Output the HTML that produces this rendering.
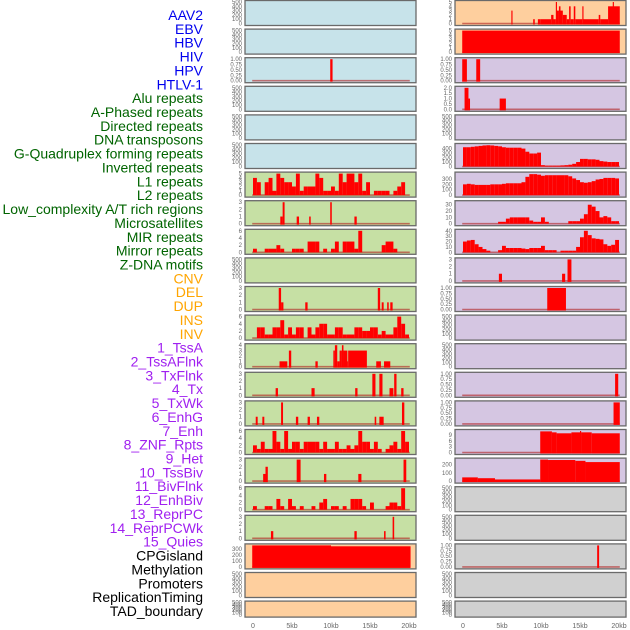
<!DOCTYPE html>
<html><head><meta charset="utf-8"><style>
html,body{margin:0;padding:0;background:#fff;}
svg{display:block;font-family:"Liberation Sans",sans-serif;}
</style></head><body>
<svg id="chart" width="630" height="630" viewBox="0 0 630 630" xmlns="http://www.w3.org/2000/svg">
<g id="labels"></g>
<g id="panels"></g>
<g id="xaxis"></g>
</svg>
<script>
// ---- labels ----
const labelNames = ["AAV2","EBV","HBV","HIV","HPV","HTLV-1","Alu repeats","A-Phased repeats","Directed repeats","DNA transposons","G-Quadruplex forming repeats","Inverted repeats","L1 repeats","L2 repeats","Low_complexity A/T rich regions","Microsatellites","MIR repeats","Mirror repeats","Z-DNA motifs","CNV","DEL","DUP","INS","INV","1_TssA","2_TssAFlnk","3_TxFlnk","4_Tx","5_TxWk","6_EnhG","7_Enh","8_ZNF_Rpts","9_Het","10_TssBiv","11_BivFlnk","12_EnhBiv","13_ReprPC","14_ReprPCWk","15_Quies","CPGisland","Methylation","Promoters","ReplicationTiming","TAD_boundary"];
const labelGroups = ["v","v","v","v","v","v","r","r","r","r","r","r","r","r","r","r","r","r","r","c","c","c","c","c","h","h","h","h","h","h","h","h","h","h","h","h","h","h","h","o","o","o","o","o"];

// ---- x axis ----
const xTickKb = [0,5,10,15,20];
const xTickLabels = ["0","5kb","10kb","15kb","20kb"];

// ---- tick sets ----
const T500 = [0,100,200,300,400,500];
const T1 = [0,0.25,0.5,0.75,1];
const T1L = ["0.00","0.25","0.50","0.75","1.00"];

// ---- left column data ----
const L2_segs = [[9.9,10.2,1]];
const L6_bins = [4,3,0,3,4,1,5,4,3,3,2,5,1,2,2,2,5,4,1,1,2,1,5,3,5,5,3,5,1,3,0,1,1,1,1,0,1,2,3,0];
const L7_segs = [[3.5,3.8,1],[3.8,4.05,3],[5.6,5.9,1],[7.2,7.4,1],[9.9,10.1,3],[13.0,13.3,1]];
const L8_bins = [1,0,0,1,1,1,2,1,0,0,1,1,1,0,3,3,3,0,1,0,1,3,0,3,3,3,1,6,0,0,0,0,0,2,3,3,1,0,0,0];
const L10_segs = [[3.3,3.6,3],[3.6,3.9,1],[6.7,7.0,1],[16.0,16.3,3],[16.5,16.75,1],[17.2,17.4,1],[17.6,17.9,1]];
const L11_bins = [0,3,3,1,1,3,3,5,1,3,1,3,3,0,3,1,3,4,4,1,1,3,3,1,1,1,3,3,2,2,3,3,1,2,1,1,3,6,4,1];
const L12_segs = [[3.4,4.4,1],[4.6,4.9,3],[8.0,8.3,1],[10.3,10.5,3],[10.5,10.8,4],[10.8,11.1,1],[11.1,11.4,3],[11.4,11.6,4],[11.6,12.1,3],[12.1,12.2,1],[12.2,14.6,3],[15.8,16.4,1],[16.8,17.6,1]];
const L13_segs = [[2.9,3.2,1],[7.5,7.9,1],[13.1,13.4,1],[15.3,15.7,3],[16.2,16.6,3],[17.5,18.0,1],[18.1,18.4,3],[19.0,19.3,1]];
const L14_segs = [[0.35,0.6,1],[1.2,1.45,1],[3.6,3.85,3],[5.5,5.8,1],[7.0,7.3,1],[8.2,8.5,1],[15.6,15.8,1],[16.2,16.75,1],[19.1,19.4,3]];
const L15_bins = [2,1,3,1,1,6,3,1,6,1,3,3,1,3,3,3,3,1,3,1,1,3,1,1,2,1,2,6,3,3,1,3,1,0,1,2,3,1,6,3];
const L16_segs = [[1.3,1.6,1],[1.6,1.9,2],[5.6,6.1,3],[9.1,9.4,1],[13.5,13.9,1],[19.3,19.65,3]];
const L17_bins = [1,0,0,1,1,0,3,1,0,3,1,0,1,0,0,1,0,2,3,0,1,1,0,1,0,3,3,3,1,0,2,0,0,0,1,2,2,1,6,0];
const L18_segs = [[2.3,2.6,1],[13.0,13.3,1],[16.8,17.0,1],[17.9,18.1,3]];
const L19_segs = [[-0.1,5,370],[5,10,365],[10,20.2,345]];

// ---- right column data ----
const R0_segs = [[6.2,6.35,3],[9.0,9.2,1],[9.6,9.9,1],[9.9,11.3,1],[11.3,11.6,2],[11.6,11.9,1],[11.9,12.05,5],[12.05,12.3,3],[12.3,12.5,4],[12.5,12.8,3],[12.8,13.3,2],[13.3,13.6,1],[13.6,13.8,4],[13.8,14.2,1],[14.2,14.4,4],[14.4,15.3,1],[15.3,15.45,4],[15.45,17.4,1],[17.4,17.6,2],[17.6,18.6,1],[18.6,20.1,4],[19.2,19.35,5]];
const R1_segs = [[-0.1,20.1,5]];
const R2_segs = [[-0.1,0.5,1],[1.7,2.2,1]];
const R3_segs = [[0.2,0.7,2],[0.7,0.9,1],[4.7,5.5,1]];
const R5_bins = [430,430,440,450,460,470,475,470,460,450,430,420,420,420,420,400,330,290,290,310,30,20,20,20,20,25,30,40,60,100,170,170,160,160,150,120,110,100,100,100];
const R6_bins = [200,210,200,190,190,190,190,200,200,200,210,220,220,220,220,240,340,390,390,380,360,370,370,370,370,370,370,350,310,280,240,230,240,260,290,300,320,320,320,310];
const R7_bins = [0,0,0,0,0,0,0,0,0,3,3,8,10,10,10,10,10,5,3,3,10,3,0,0,0,0,0,4,4,4,8,15,30,27,20,10,12,10,4,4];
const R8_bins = [20,22,23,15,10,6,3,0,0,4,12,8,8,8,8,7,6,8,8,8,12,4,4,4,0,3,3,3,3,10,28,40,32,26,25,24,15,12,14,23];
const R9_segs = [[4.6,5.0,1],[12.7,13.1,1],[13.4,13.9,3]];
const R10_segs = [[10.8,13.2,1]];
const R13_segs = [[19.5,19.9,1]];
const R14_segs = [[19.3,20.1,1]];
const R15_segs = [[9.9,11.4,11],[11.4,12,10.5],[12,13.9,10],[13.9,15.2,10.5],[15.0,15.15,11.3],[15.2,16.5,10.5],[16.5,20.1,10]];
const R16_segs = [[-0.1,1.9,45],[1.9,4.1,35],[4.1,9.9,20],[9.9,10.9,260],[10.9,14.4,255],[14.4,15.7,245],[15.7,20.1,230]];
const R19_segs = [[17.2,17.45,1]];

const BLUE="#c7e3ea", GREEN="#c6e0a4", PEACH="#fecf9e", PURPLE="#d5c6e2", GREY="#d0d0d0";
function P(bg,ticks,ymax,bins,segs,tl){return {bg:bg,ticks:ticks,ymax:ymax,bins:bins,segs:segs,tl:tl};}
const leftPanels = [
 P(BLUE,T500,500),P(BLUE,T500,500),P(BLUE,T1,1,null,L2_segs,T1L),P(BLUE,T500,500),P(BLUE,T500,500),P(BLUE,T500,500),
 P(GREEN,[0,1,2,3,4,5],5,L6_bins),P(GREEN,[0,1,2,3],3,null,L7_segs),P(GREEN,[0,2,4,6],6,L8_bins),P(GREEN,T500,500),
 P(GREEN,[0,1,2,3],3,null,L10_segs),P(GREEN,[0,2,4,6],6,L11_bins),P(GREEN,[0,1,2,3,4],4,null,L12_segs),
 P(GREEN,[0,1,2,3],3,null,L13_segs),P(GREEN,[0,1,2,3],3,null,L14_segs),P(GREEN,[0,2,4,6],6,L15_bins),
 P(GREEN,[0,1,2,3],3,null,L16_segs),P(GREEN,[0,2,4,6],6,L17_bins),P(GREEN,[0,1,2,3],3,null,L18_segs),
 P(PEACH,[0,100,200,300],360,null,L19_segs),P(PEACH,T500,500),P(PEACH,T500,500)
];
const rightPanels = [
 P(PEACH,[0,1,2,3,4,5],5,null,R0_segs),P(PEACH,[0,1,2,3,4,5],5,null,R1_segs),P(PURPLE,T1,1,null,R2_segs,T1L),
 P(PURPLE,[0,0.5,1,1.5,2],2,null,R3_segs,["0.0","0.5","1.0","1.5","2.0"]),P(PURPLE,T500,500),
 P(PURPLE,[0,100,200,300,400],480,R5_bins),P(PURPLE,[0,100,200,300],400,R6_bins),P(PURPLE,[0,10,20,30],34,R7_bins),
 P(PURPLE,[0,10,20,30,40],40,R8_bins),P(PURPLE,[0,1,2,3],3,null,R9_segs),P(PURPLE,T1,1,null,R10_segs,T1L),
 P(PURPLE,T500,500),P(PURPLE,T500,500),P(PURPLE,T1,1,null,R13_segs,T1L),P(PURPLE,T1,1,null,R14_segs,T1L),
 P(PURPLE,[0,3,6,9],11.2,null,R15_segs),P(PURPLE,[0,100,200],260,null,R16_segs),
 P(GREY,T500,500),P(GREY,T500,500),P(GREY,T1,1,null,R19_segs,T1L),P(GREY,T500,500),P(GREY,T500,500)
];

const NS="http://www.w3.org/2000/svg";
function mk(tag,attrs,parent){const e=document.createElementNS(NS,tag);for(const k in attrs)e.setAttribute(k,attrs[k]);parent.appendChild(e);return e;}

const colors={v:"#0000ee",r:"#006400",c:"#ffa500",h:"#a020f0",o:"#000000"};
const lg=document.getElementById("labels");
labelNames.forEach((n,i)=>{
  const t=mk("text",{x:203,y:15+i*13.86+5,"text-anchor":"end","font-size":"14",fill:colors[labelGroups[i]]},lg);
  
  
  t.textContent=n;
});

const pg=document.getElementById("panels");
function panelTop(i){return 0.5+i*28.6;}
function panelH(i){return i===21?16:25;}
function xs(kb,x0){return x0+8+kb*7.8;}
function drawCol(panels,x0,side){
  panels.forEach((p,i)=>{
    const top=panelTop(i), h=panelH(i);
    const g=mk("g",{},pg);
    
    
    mk("rect",{x:x0,y:top,width:171,height:h,fill:p.bg,stroke:"#6a6a6a","stroke-width":1.3},g);
    const y0=top+h-2, span=h-3.5;
    const ys=v=>y0-Math.min(v,p.ymax)/p.ymax*span;
    p.ticks.forEach((tv,k)=>{
      const t=mk("text",{x:x0-3,y:ys(tv)+2,"text-anchor":"end","font-size":"6",fill:"#666"},g);
      
      
      t.textContent=p.tl?p.tl[k]:String(tv);
    });
    const hasData=p.bins||p.segs;
    if(hasData){
      const bl=mk("line",{x1:xs(-0.1,x0),x2:xs(20.1,x0),y1:y0,y2:y0,stroke:"#b02020","stroke-opacity":0.6,"stroke-width":1.6},g);
      
      
    }
    if(p.bins){
      p.bins.forEach((v,k)=>{
        if(v<=0)return;
        const r=mk("rect",{x:xs(k*0.5,x0),y:ys(v),width:xs(0.5,x0)-xs(0,x0),height:y0-ys(v),fill:"#ff0000"},g);
        
        
      });
    }
    if(p.segs){
      p.segs.forEach(s=>{
        const r=mk("rect",{x:xs(s[0],x0),y:ys(s[2]),width:xs(s[1],x0)-xs(s[0],x0),height:y0-ys(s[2])+1,fill:"#ff0000"},g);
        
        
      });
    }
  });
}
drawCol(leftPanels,245,'left');
drawCol(rightPanels,455,'right');

const xg=document.getElementById("xaxis");
[245,455].forEach(x0=>{
  xTickKb.forEach((kb,k)=>{
    const t=mk("text",{x:xs(kb,x0),y:628,"text-anchor":"middle","font-size":"7",fill:"#666"},xg);
    
    
    t.textContent=xTickLabels[k];
  });
});
</script>
</body></html>
